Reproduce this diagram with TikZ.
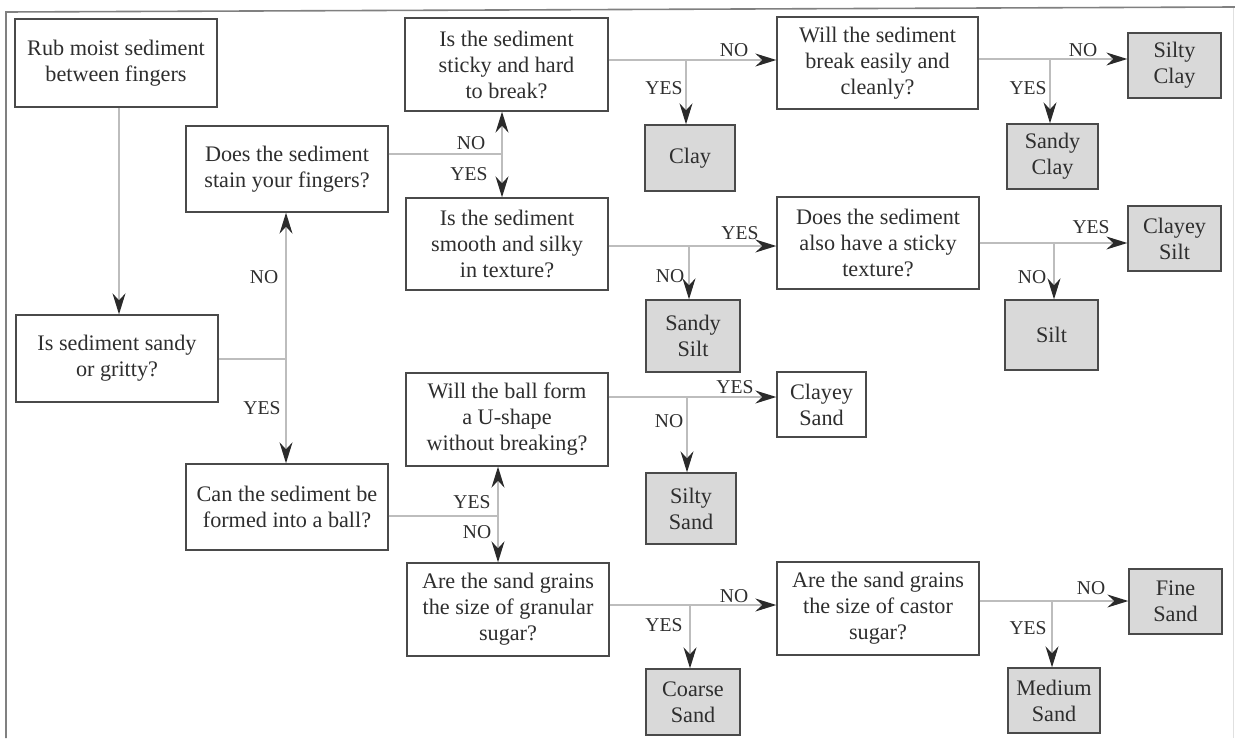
\documentclass[tikz,border=0pt]{standalone}
\usepackage{fontspec}
\setmainfont{Liberation Serif}
\newfontfamily\tfont{Liberation Serif}
\usetikzlibrary{arrows.meta}
\definecolor{boxc}{HTML}{4A4A4A}
\definecolor{linec}{HTML}{BDBDBD}
\definecolor{tipc}{HTML}{2A2A2A}
\definecolor{shade}{HTML}{D9D9D9}
\definecolor{txtc}{HTML}{2E2E2E}
\tikzset{
  qbox/.style={draw=boxc, line width=0.7pt, fill=white, align=center, inner sep=0pt,
    text=txtc, font=\tfont\fontsize{11.1}{13}\selectfont},
  res/.style={qbox, fill=shade},
  conn/.style={draw=linec, line width=0.55pt},
  arr/.style={conn, -{Stealth[length=10.5pt, width=6.5pt, inset=3.5pt, color=tipc]}},
  lbl/.style={text=txtc, inner sep=0pt, font=\tfont\fontsize{9.8}{11}\selectfont}
}
\begin{document}
\begin{tikzpicture}[x=0.5pt, y=-0.5pt]
\useasboundingbox (0,0) rectangle (1235,738);
% frame
\draw[draw=gray, line width=0.8pt] (6,738) -- (6,12) -- (1235,7);
\draw[draw=black!12, line width=0.5pt] (1233,8) -- (1233,738);

% question boxes
\node[qbox, minimum width=101pt, minimum height=44pt] (rub) at (116,63) {Rub moist sediment\\between fingers};
\node[qbox, minimum width=101pt, minimum height=43pt] (stain) at (287,169) {Does the sediment\\stain your fingers?};
\node[qbox, minimum width=101pt, minimum height=43.5pt] (sandy) at (117,358.5) {Is sediment sandy\\or gritty?};
\node[qbox, minimum width=101pt, minimum height=43pt] (ball) at (287,507) {Can the sediment be\\formed into a ball?};
\node[qbox, minimum width=101.5pt, minimum height=46.5pt] (sticky) at (506.5,64.5) {Is the sediment\\sticky and hard\\to break?};
\node[qbox, minimum width=101pt, minimum height=46pt] (smooth) at (507,244) {Is the sediment\\smooth and silky\\in texture?};
\node[qbox, minimum width=101pt, minimum height=46.5pt] (ushape) at (507,419.5) {Will the ball form\\a U-shape\\without breaking?};
\node[qbox, minimum width=101pt, minimum height=46.5pt] (granular) at (508,609.5) {Are the sand grains\\the size of granular\\sugar?};
\node[qbox, minimum width=100.5pt, minimum height=46pt] (break) at (877.5,63) {Will the sediment\\break easily and\\cleanly?};
\node[qbox, minimum width=101pt, minimum height=46pt] (alsosticky) at (878,243) {Does the sediment\\also have a sticky\\texture?};
\node[qbox, minimum width=101pt, minimum height=46.5pt] (castor) at (878,608.5) {Are the sand grains\\the size of castor\\sugar?};
\node[qbox, minimum width=44.5pt, minimum height=32.5pt] (clayeysand) at (821.5,404.5) {Clayey\\Sand};

% result boxes
\node[res, minimum width=45pt, minimum height=33pt] (clay) at (690,158) {Clay};
\node[res, minimum width=47pt, minimum height=36pt] (sandysilt) at (693,336) {Sandy\\Silt};
\node[res, minimum width=45pt, minimum height=35.5pt] (siltysand) at (691,508.5) {Silty\\Sand};
\node[res, minimum width=47pt, minimum height=33pt] (coarse) at (693,702) {Coarse\\Sand};
\node[res, minimum width=46.5pt, minimum height=32.5pt] (siltyclay) at (1174.5,65.5) {Silty\\Clay};
\node[res, minimum width=45.5pt, minimum height=32.5pt] (sandyclay) at (1052.5,156.5) {Sandy\\Clay};
\node[res, minimum width=46.5pt, minimum height=32.5pt] (clayeysilt) at (1174.5,238.5) {Clayey\\Silt};
\node[res, minimum width=46.5pt, minimum height=35pt] (silt) at (1051.5,335) {Silt};
\node[res, minimum width=46.5pt, minimum height=32.5pt] (finesand) at (1175.5,601.5) {Fine\\Sand};
\node[res, minimum width=46pt, minimum height=32.5pt] (medium) at (1054,700.5) {Medium\\Sand};

% junctions
\coordinate (j0) at (119,0);
\coordinate (j1) at (286,359);
\coordinate (j2) at (502,154);
\coordinate (j3) at (686,60);
\coordinate (j4) at (1050,59);
\coordinate (j5) at (689,246);
\coordinate (j6) at (1054,243);
\coordinate (j7) at (687,397);
\coordinate (j8) at (498,516);
\coordinate (j9) at (690,605);
\coordinate (j10) at (1052,601);

% connectors
\draw[arr] (rub.south -| j0) -- (sandy.north -| j0);

\draw[conn] (sandy.east |- j1) -- (j1);
\draw[arr] (j1) -- (stain.south -| j1);
\draw[arr] (j1) -- (ball.north -| j1);

\draw[conn] (stain.east |- j2) -- (j2);
\draw[arr] (j2) -- (sticky.south -| j2);
\draw[arr] (j2) -- (smooth.north -| j2);

\draw[arr] (sticky.east |- j3) -- (break.west |- j3);
\draw[arr] (j3) -- (clay.north -| j3);

\draw[arr] (break.east |- j4) -- (siltyclay.west |- j4);
\draw[arr] (j4) -- (sandyclay.north -| j4);

\draw[arr] (smooth.east |- j5) -- (alsosticky.west |- j5);
\draw[arr] (j5) -- (sandysilt.north -| j5);

\draw[arr] (alsosticky.east |- j6) -- (clayeysilt.west |- j6);
\draw[arr] (j6) -- (silt.north -| j6);

\draw[arr] (ushape.east |- j7) -- (clayeysand.west |- j7);
\draw[arr] (j7) -- (siltysand.north -| j7);

\draw[conn] (ball.east |- j8) -- (j8);
\draw[arr] (j8) -- (ushape.south -| j8);
\draw[arr] (j8) -- (granular.north -| j8);

\draw[arr] (granular.east |- j9) -- (castor.west |- j9);
\draw[arr] (j9) -- (coarse.north -| j9);

\draw[arr] (castor.east |- j10) -- (finesand.west |- j10);
\draw[arr] (j10) -- (medium.north -| j10);

% labels
\node[lbl] (l1) at (264,277) {NO};
\node[lbl] (l2) at (262,408) {YES};
\node[lbl] (l3) at (471,143) {NO};
\node[lbl] (l4) at (469,174) {YES};
\node[lbl] (l5) at (734,50) {NO};
\node[lbl] (l6) at (664,88) {YES};
\node[lbl] (l7) at (1083,50) {NO};
\node[lbl] (l8) at (1028,88) {YES};
\node[lbl] (l9) at (740,233) {YES};
\node[lbl] (l10) at (670,276) {NO};
\node[lbl] (l11) at (1091,227) {YES};
\node[lbl] (l12) at (1032,277) {NO};
\node[lbl] (l13) at (735,387) {YES};
\node[lbl] (l14) at (669,421) {NO};
\node[lbl] (l15) at (472,502) {YES};
\node[lbl] (l16) at (477,532) {NO};
\node[lbl] (l17) at (734,596) {NO};
\node[lbl] (l18) at (664,625) {YES};
\node[lbl] (l19) at (1091,588) {NO};
\node[lbl] (l20) at (1028,628) {YES};
\end{tikzpicture}
\end{document}
